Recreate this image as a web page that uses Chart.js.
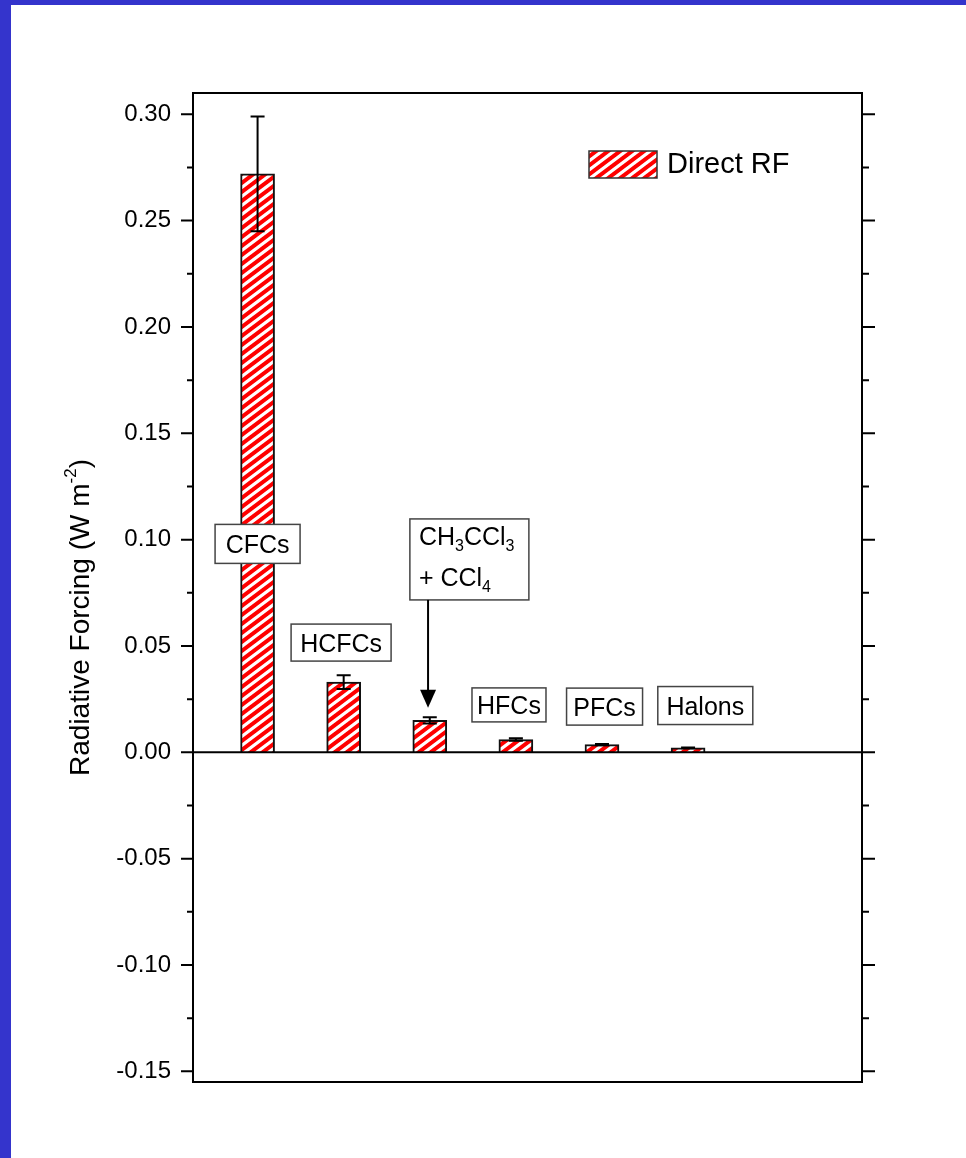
<!DOCTYPE html>
<html>
<head>
<meta charset="utf-8">
<script src="https://cdn.jsdelivr.net/npm/chart.js@4/dist/chart.umd.min.js"></script>
<style>
  body { margin: 0; background: #3434cc; }
  #wrap { position: absolute; left: 11px; top: 5px; width: 955px; height: 1153px; background: #fff; }
</style>
</head>
<body>
<div id="wrap"><canvas id="canvas" width="955" height="1153"></canvas></div>
<script>
// data
const categories = ['CFCs', 'HCFCs', 'CH3CCl3 + CCl4', 'HFCs', 'PFCs', 'Halons']
const positions = [1, 2, 3, 4, 5, 6]
const directRF = [0.272, 0.033, 0.015, 0.006, 0.0036, 0.0021]
const rfError = [0.027, 0.0032, 0.0015, 0.0006, 0.0003, 0.0002]
const yTicks = [-0.15, -0.10, -0.05, 0.00, 0.05, 0.10, 0.15, 0.20, 0.25, 0.30]

const FONT = "'Liberation Sans', Arial, sans-serif"

// where the label boxes sit (data coords: x index, y value at box centre)
const boxes = [
    { text: 'CFCs', x: 1, y: 0.098, w: 85, h: 39 },
    { text: 'HCFCs', x: 1.97, y: 0.0516, w: 100, h: 37 },
    { text: null, x: 3.46, y: 0.0907, w: 119, h: 81, arrowX: 2.98, arrowTo: 0.021 },
    { text: 'HFCs', x: 3.92, y: 0.0223, w: 74, h: 34 },
    { text: 'PFCs', x: 5.03, y: 0.0215, w: 76, h: 37 },
    { text: 'Halons', x: 6.2, y: 0.022, w: 95, h: 38 }
]

const ctx = document.getElementById('canvas').getContext('2d')

const makeHatch = () => {
    const c = document.createElement('canvas')
    c.width = 12; c.height = 9
    const g = c.getContext('2d')
    g.fillStyle = '#fff'
    g.fillRect(0, 0, 12, 9)
    g.strokeStyle = '#ff0000'
    g.lineWidth = 4
    g.beginPath()
    for (let k = 0; k < 3; k++) {
        g.moveTo(-12, 9 * k + 9)
        g.lineTo(24, 9 * k - 18)
    }
    g.stroke()
    return ctx.createPattern(c, 'repeat')
}
const hatch = makeHatch()

// text with subscripts: parts = [[text, isSub], ...]
const drawRich = (g, parts, x, y, size) => {
    let cx = x
    parts.forEach(([t, sub]) => {
        g.font = `${sub ? Math.round(size * 0.62) : size}px ${FONT}`
        g.fillText(t, cx, sub ? y + size * 0.22 : y)
        cx += g.measureText(t).width
    })
}

const decorations = {
    id: 'decorations',
    afterDatasetsDraw(chart) {
        const g = chart.ctx
        const { left, right, top, bottom } = chart.chartArea
        const y = chart.scales.y
        const x = chart.scales.x
        g.save()
        g.strokeStyle = '#000'
        g.fillStyle = '#000'

        // error bars
        const meta = chart.getDatasetMeta(0)
        g.lineWidth = 2
        meta.data.forEach((bar, i) => {
            const yt = y.getPixelForValue(directRF[i] + rfError[i])
            const yb = y.getPixelForValue(directRF[i] - rfError[i])
            g.beginPath()
            g.moveTo(bar.x, yt); g.lineTo(bar.x, yb)
            g.moveTo(bar.x - 7, yt); g.lineTo(bar.x + 7, yt)
            g.moveTo(bar.x - 7, yb); g.lineTo(bar.x + 7, yb)
            g.stroke()
        })

        // zero line
        const y0 = y.getPixelForValue(0)
        g.beginPath()
        g.moveTo(left, y0); g.lineTo(right, y0)
        g.stroke()

        // ticks, major and minor, both sides
        yTicks.forEach((v, i) => {
            const p = y.getPixelForValue(v)
            g.beginPath()
            g.moveTo(left - 12, p); g.lineTo(left, p)
            g.moveTo(right, p); g.lineTo(right + 13, p)
            g.stroke()
            if (i < yTicks.length - 1) {
                const m = y.getPixelForValue((v + yTicks[i + 1]) / 2)
                g.beginPath()
                g.moveTo(left - 6, m); g.lineTo(left, m)
                g.moveTo(right, m); g.lineTo(right + 7, m)
                g.stroke()
            }
        })

        // frame
        g.lineWidth = 2
        g.strokeRect(left, top, right - left, bottom - top)

        // label boxes
        boxes.forEach(b => {
            const cx = x.getPixelForValue(b.x)
            const cy = y.getPixelForValue(b.y)
            g.fillStyle = '#fff'
            g.fillRect(cx - b.w / 2, cy - b.h / 2, b.w, b.h)
            g.strokeStyle = '#444'
            g.lineWidth = 1.5
            g.strokeRect(cx - b.w / 2, cy - b.h / 2, b.w, b.h)
            g.fillStyle = '#000'
            g.textBaseline = 'alphabetic'
            if (b.text) {
                g.font = `25px ${FONT}`
                g.textAlign = 'center'
                g.fillText(b.text, cx, cy + 9)
            } else {
                g.textAlign = 'left'
                const lx = cx - b.w / 2 + 9
                drawRich(g, [['CH', 0], ['3', 1], ['CCl', 0], ['3', 1]], lx, cy - 14, 25)
                drawRich(g, [['+ CCl', 0], ['4', 1]], lx, cy + 27, 25)
                // arrow
                const ax = x.getPixelForValue(b.arrowX)
                const tip = y.getPixelForValue(b.arrowTo)
                g.strokeStyle = '#000'
                g.lineWidth = 2
                g.beginPath()
                g.moveTo(ax, cy + b.h / 2); g.lineTo(ax, tip - 16)
                g.stroke()
                g.beginPath()
                g.moveTo(ax - 8, tip - 18); g.lineTo(ax + 8, tip - 18); g.lineTo(ax, tip)
                g.closePath()
                g.fill()
            }
        })

        // legend
        const lx = right - 273, ly = top + 58
        g.fillStyle = hatch
        g.fillRect(lx, ly, 68, 27)
        g.strokeStyle = '#333'
        g.lineWidth = 1.5
        g.strokeRect(lx, ly, 68, 27)
        g.fillStyle = '#000'
        g.font = `29px ${FONT}`
        g.textAlign = 'left'
        g.textBaseline = 'middle'
        g.fillText(chart.data.datasets[0].label, lx + 78, ly + 14)

        // y axis title
        g.save()
        g.translate(left - 112, (top + bottom) / 2 + 30)
        g.rotate(-Math.PI / 2)
        g.textBaseline = 'middle'
        const parts = [['Radiative Forcing (W m', 28], ['-2', 17], [')', 28]]
        let total = 0
        parts.forEach(([t, s]) => { g.font = `${s}px ${FONT}`; total += g.measureText(t).width })
        let cx = -total / 2
        parts.forEach(([t, s]) => {
            g.font = `${s}px ${FONT}`
            g.fillText(t, cx, s < 28 ? -10 : 0)
            cx += g.measureText(t).width
        })
        g.restore()

        g.restore()
    }
}

const chart = new Chart(ctx, {
    type: 'bar',
    data: {
        labels: categories,
        datasets: [
            {
                label: 'Direct RF',
                data: positions.map((p, i) => ({ x: p, y: directRF[i] })),
                backgroundColor: hatch,
                borderColor: '#111',
                borderWidth: 2,
                barThickness: 34
            }
        ]
    },
    options: {
        responsive: false,
        animation: false,
        layout: { padding: { left: 0, top: 88, right: 104, bottom: 76 } },
        plugins: { legend: { display: false }, tooltip: { enabled: false } },
        scales: {
            x: { type: 'linear', min: 0.25, max: 8.02, offset: false, display: false },
            y: {
                min: -0.155,
                max: 0.31,
                afterBuildTicks: scale => { scale.ticks = yTicks.map(v => ({ value: v })) },
                afterFit: scale => { scale.width = 182 },
                grid: { display: false },
                border: { display: false },
                ticks: {
                    color: '#000',
                    padding: 14,
                    font: { family: FONT, size: 24 },
                    callback: v => v.toFixed(2)
                }
            }
        }
    },
    plugins: [decorations]
})
</script>
</body>
</html>
